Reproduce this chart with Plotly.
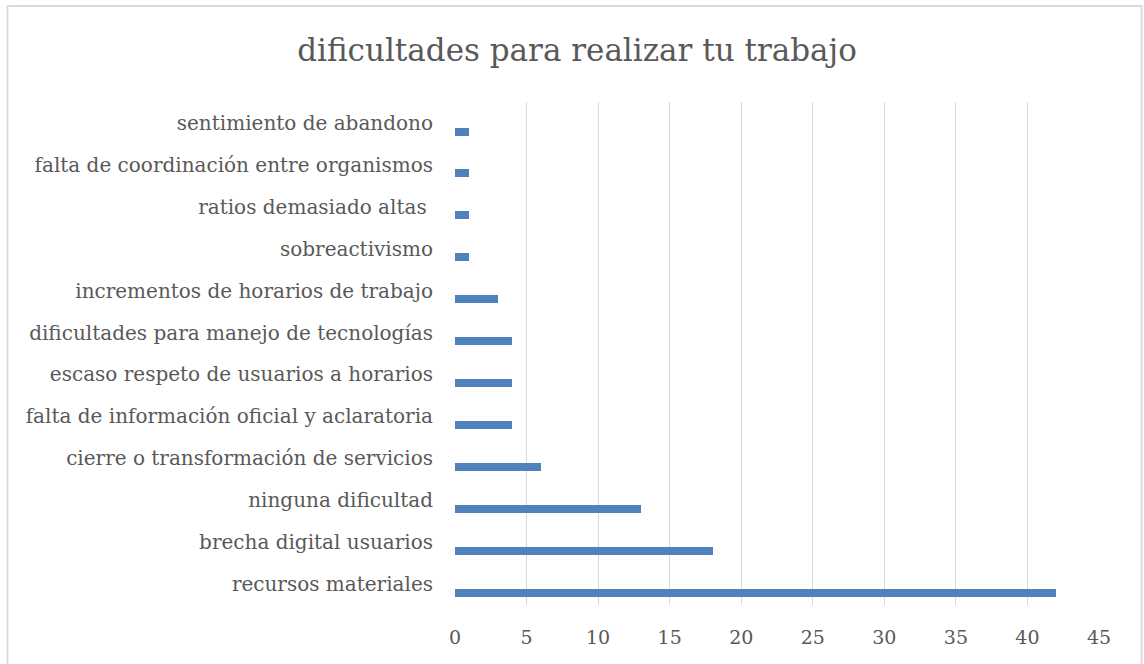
import plotly.graph_objects as go

categories = [
    "recursos materiales",
    "brecha digital usuarios",
    "ninguna dificultad",
    "cierre o transformación de servicios",
    "falta de información oficial y aclaratoria",
    "escaso respeto de usuarios a horarios",
    "dificultades para manejo de tecnologías",
    "incrementos de horarios de trabajo",
    "sobreactivismo",
    "ratios demasiado altas\u00a0",
    "falta de coordinación entre organismos",
    "sentimiento de abandono",
]
values = [42, 18, 13, 6, 4, 4, 4, 3, 1, 1, 1, 1]
x_ticks = [0, 5, 10, 15, 20, 25, 30, 35, 40, 45]

FONT = "DejaVu Serif"
GREY = "#595959"

fig = go.Figure(
    go.Bar(
        y=categories,
        x=values,
        orientation="h",
        marker=dict(color="#4f81bd", line=dict(width=0)),
        width=0.19,
        offset=-0.30,
    )
)

W, H = 1144, 664
L, R, T, B = 455, 45, 102, 59
pw, ph = W - L - R, H - T - B

def px2paper_x(px):
    return (px - L) / pw

def px2paper_y(py):
    return (H - B - py) / ph

fig.add_shape(
    type="rect", xref="paper", yref="paper",
    x0=px2paper_x(7.5), x1=px2paper_x(1141.5),
    y0=px2paper_y(668), y1=px2paper_y(6),
    line=dict(color="#d9d9d9", width=1.8), fillcolor="rgba(0,0,0,0)", layer="below",
)

fig.update_layout(
    width=W, height=H,
    margin=dict(l=L, r=R, t=T, b=B, pad=0),
    paper_bgcolor="white", plot_bgcolor="white",
    showlegend=False,
    title=dict(
        text="dificultades para realizar tu trabajo",
        x=577 / W, xanchor="center", xref="container",
        y=1 - 50 / H, yanchor="middle", yref="container",
        font=dict(family=FONT, size=31, color=GREY),
    ),
    font=dict(family=FONT, color=GREY),
    bargap=0,
)
fig.update_xaxes(
    range=[0, 45], tickvals=x_ticks, showgrid=True, gridcolor="#d9d9d9", gridwidth=1,
    zeroline=False, showline=False, ticks="", tickfont=dict(size=19, color=GREY),
    ticklabelstandoff=19,
)
fig.update_yaxes(
    type="category", categoryorder="array", categoryarray=categories,
    range=[-0.5, 11.5], showgrid=False, zeroline=False, showline=False, ticks="",
    tickfont=dict(size=20, color=GREY), ticklabelstandoff=21,
)

fig.write_html(
    "out.html",
    config={"displayModeBar": False},
    post_script="document.body.style.margin='0';",
)
